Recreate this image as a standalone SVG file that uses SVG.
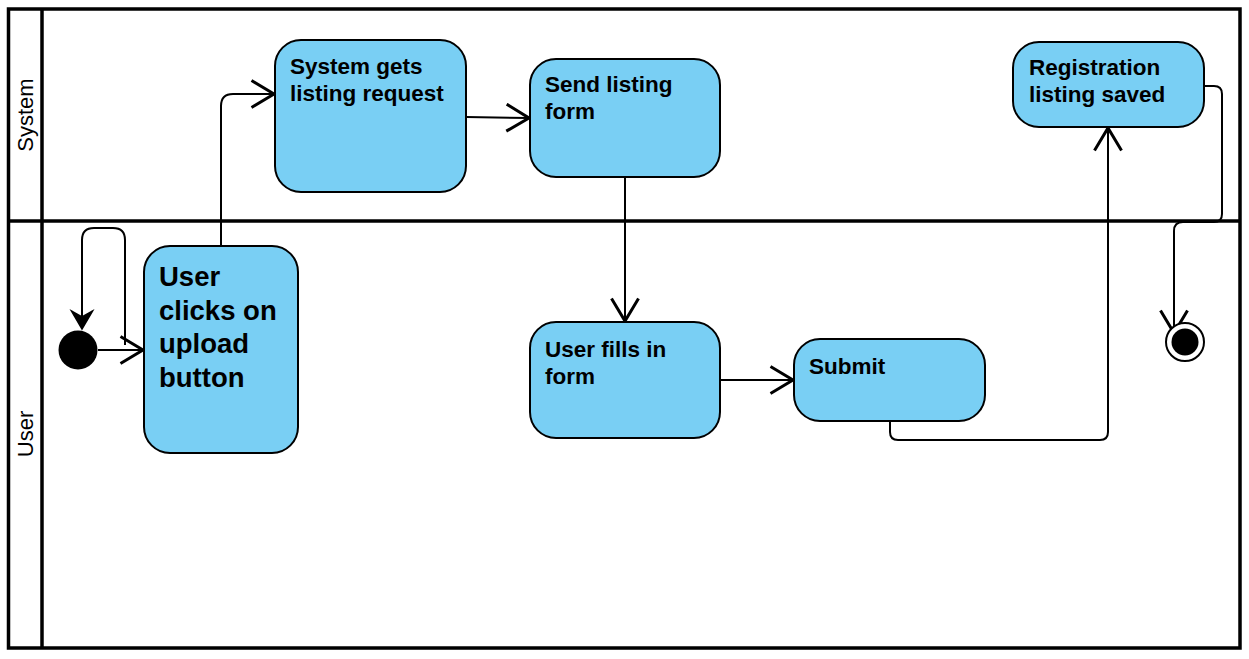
<svg xmlns="http://www.w3.org/2000/svg" width="1249" height="659" viewBox="0 0 1249 659">
<style>
.lane{fill:none;stroke:#000;stroke-width:3.5}
.node{fill:#79CFF4;stroke:#000;stroke-width:2}
.t{font-family:"Liberation Sans",Arial,sans-serif;font-weight:bold;font-size:22.5px;fill:#000}
.tb{font-family:"Liberation Sans",Arial,sans-serif;font-weight:bold;font-size:27.5px;fill:#000}
.ll{font-family:"Liberation Sans",Arial,sans-serif;font-size:22px;fill:#000}
.c{fill:none;stroke:#000;stroke-width:2}
</style>
<defs>
<marker id="open" markerUnits="userSpaceOnUse" markerWidth="30" markerHeight="30" viewBox="-16 -10 18 20" refX="0" refY="0" orient="auto">
<path d="M-15,-9 L0,0 L-15,9" fill="none" stroke="#000" stroke-width="2"/>
</marker>
<marker id="filled" markerUnits="userSpaceOnUse" markerWidth="30" markerHeight="30" viewBox="-16 -10 18 20" refX="0" refY="0" orient="auto">
<path d="M-12,-7 L0,0 L-12,7 L-8,0 Z" fill="#000" stroke="#000" stroke-width="1"/>
</marker>
</defs>
<rect width="1249" height="659" fill="#fff"/>
<g id="lanes">
<rect class="lane" x="8.5" y="9" width="1231.5" height="639"/>
<line class="lane" x1="42" y1="9" x2="42" y2="648"/>
<line class="lane" x1="8.5" y1="221" x2="1240" y2="221"/>
<text class="ll" transform="translate(33,115) rotate(-90)" text-anchor="middle">System</text>
<text class="ll" transform="translate(33,434) rotate(-90)" text-anchor="middle">User</text>
</g>
<g id="connectors">
<line class="c" x1="98" y1="350" x2="143" y2="350" marker-end="url(#open)"/>
<path class="c" d="M125,345 V240 Q125,228 113,228 H94 Q82,228 82,240 V329" marker-end="url(#filled)"/>
<path class="c" d="M221,246 V106 Q221,94 233,94 H274" marker-end="url(#open)"/>
<line class="c" x1="466" y1="117" x2="529" y2="118" marker-end="url(#open)"/>
<line class="c" x1="625" y1="177" x2="625" y2="321" marker-end="url(#open)"/>
<line class="c" x1="720" y1="380" x2="793" y2="380" marker-end="url(#open)"/>
<path class="c" d="M890,421 V432 Q890,440 898,440 H1100 Q1108,440 1108,432 V128" marker-end="url(#open)"/>
<path class="c" d="M1204,86 H1214 Q1222,86 1222,94 V214 Q1222,222 1214,222 H1183 Q1174,222 1174,231 V333" marker-end="url(#open)"/>
</g>
<g id="initial">
<circle cx="78" cy="350" r="19.5" fill="#000"/>
</g>
<g id="final">
<circle cx="1185" cy="342" r="19" fill="#fff" stroke="#000" stroke-width="2"/>
<circle cx="1185" cy="342" r="13.5" fill="#000"/>
</g>
<g id="n-system-gets">
<rect class="node" x="275" y="40" width="191" height="152" rx="26"/>
<text class="t" x="290" y="74">System gets</text>
<text class="t" x="290" y="101">listing request</text>
</g>
<g id="n-send-form">
<rect class="node" x="530" y="59" width="190" height="118" rx="26"/>
<text class="t" x="545" y="92">Send listing</text>
<text class="t" x="545" y="119">form</text>
</g>
<g id="n-saved">
<rect class="node" x="1013" y="42" width="191" height="85" rx="26"/>
<text class="t" x="1029" y="75">Registration</text>
<text class="t" x="1029" y="102">listing saved</text>
</g>
<g id="n-user-clicks">
<rect class="node" x="144" y="246" width="154" height="207" rx="26"/>
<text class="tb" x="159" y="286">User</text>
<text class="tb" x="159" y="320">clicks on</text>
<text class="tb" x="159" y="353">upload</text>
<text class="tb" x="159" y="387">button</text>
</g>
<g id="n-user-fills">
<rect class="node" x="530" y="322" width="190" height="116" rx="26"/>
<text class="t" x="545" y="357">User fills in</text>
<text class="t" x="545" y="384">form</text>
</g>
<g id="n-submit">
<rect class="node" x="794" y="339" width="191" height="82" rx="26"/>
<text class="t" x="809" y="374">Submit</text>
</g>
</svg>
